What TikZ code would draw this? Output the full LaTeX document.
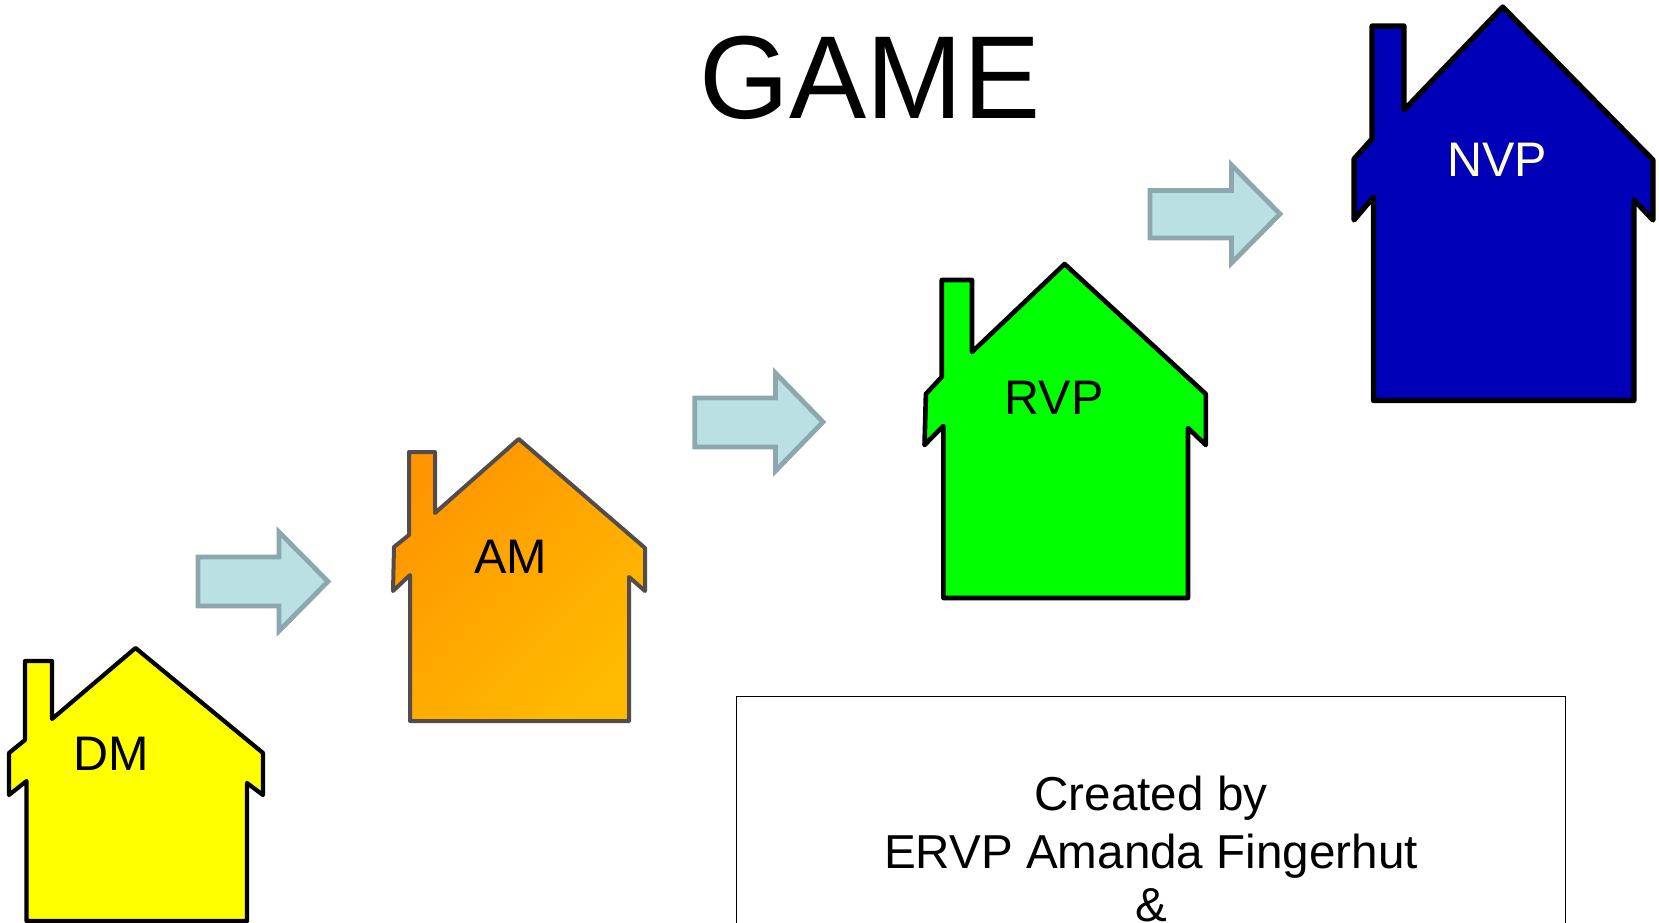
\documentclass[tikz,border=0pt]{standalone}
\usepackage{fontspec}
\setmainfont{Liberation Sans}
\definecolor{arrowedge}{RGB}{140,168,172}
\definecolor{arrowfill}{RGB}{187,224,227}
\definecolor{amedge}{RGB}{84,75,75}
\definecolor{dmyellow}{RGB}{255,255,0}
\definecolor{rvpgreen}{RGB}{0,255,0}
\definecolor{nvpblue}{RGB}{0,0,184}
\definecolor{nvptext}{RGB}{255,255,204}
\definecolor{amstart}{RGB}{255,150,0}
\definecolor{amend}{RGB}{255,186,0}
\tikzset{
  house/.style={draw=black,line join=round,line cap=round},
  blockarrow/.style={draw=arrowedge,fill=arrowfill,line width=4.8pt,line join=miter},
  houselabel/.style={anchor=base,inner sep=0pt,font=\fontsize{48.5}{52}\selectfont},
  boxtext/.style={anchor=base,inner sep=0pt,font=\fontsize{47.6}{56}\selectfont}
}
\begin{document}
\begin{tikzpicture}[x=1pt,y=-1pt]
\clip (0,0) rectangle (1659,923);
\fill[white] (0,0) rectangle (1659,923);
\node[anchor=base,inner sep=0pt,font=\fontsize{118}{130}\selectfont,xscale=0.98,transform shape] (title) at (870,119) {GAME};
% DM house
\filldraw[house,fill=dmyellow,line width=4.2pt] (135.5,648)--(263,753)--(263,795)--(247,783)--(247,921)--(26.5,921)--(26.5,781)--(9,795)--(9,753)--(25,740)--(25,661)--(52,661)--(52,719)--cycle;
\node[houselabel] (dm) at (111,770.5) {DM};
% AM house
\shadedraw[house,draw=amedge,left color=amstart,right color=amend,shading angle=45,line width=4pt] (518.7,439)--(645,548)--(645,591)--(629,577)--(629,721)--(410,721)--(410,575)--(393,591)--(394,547)--(409,535)--(409,452)--(435,452)--(435,513)--cycle;
\node[houselabel] (am) at (510.5,573) {AM};
% RVP house
\filldraw[house,fill=rvpgreen,line width=4.6pt] (1064.6,264)--(1205.8,394)--(1205.8,445)--(1188,428)--(1188,598)--(943.4,598)--(943.4,426)--(924.5,445)--(925.9,394)--(941.7,377)--(941.7,280)--(972,280)--(972,352)--cycle;
\node[houselabel] (rvp) at (1054,414) {RVP};
% NVP house
\filldraw[house,fill=nvpblue,line width=5.2pt] (1502.7,7)--(1653,160)--(1653,220)--(1634,200)--(1634,400.5)--(1373.5,400.5)--(1373.5,197)--(1354,220)--(1354,159)--(1372,139)--(1372,26)--(1404,26)--(1404,110)--cycle;
\node[houselabel,text=nvptext] (nvp) at (1497,176) {NVP};
% Block arrows
\draw[blockarrow] (198,557)--(279,557)--(279,532)--(328,581.5)--(279,631)--(279,606)--(198,606)--cycle;
\draw[blockarrow] (694.8,398)--(775.4,398)--(775.4,373)--(823,422)--(775.4,471)--(775.4,447)--(694.8,447)--cycle;
\draw[blockarrow] (1150,190.5)--(1231.5,190.5)--(1231.5,165)--(1280,214)--(1231.5,263)--(1231.5,238)--(1150,238)--cycle;
% Credits box
\node[draw=black,line width=1.8pt,minimum width=829pt,minimum height=400pt,anchor=north west,inner sep=0pt] (box) at (735.5,695.5) {};
\node[boxtext] (line1) at (1151,810) {Created by};
\node[boxtext] (line2) at (1151,868) {ERVP Amanda Fingerhut};
\node[boxtext] (line3) at (1151,921.5) {\&};
\end{tikzpicture}
\end{document}
